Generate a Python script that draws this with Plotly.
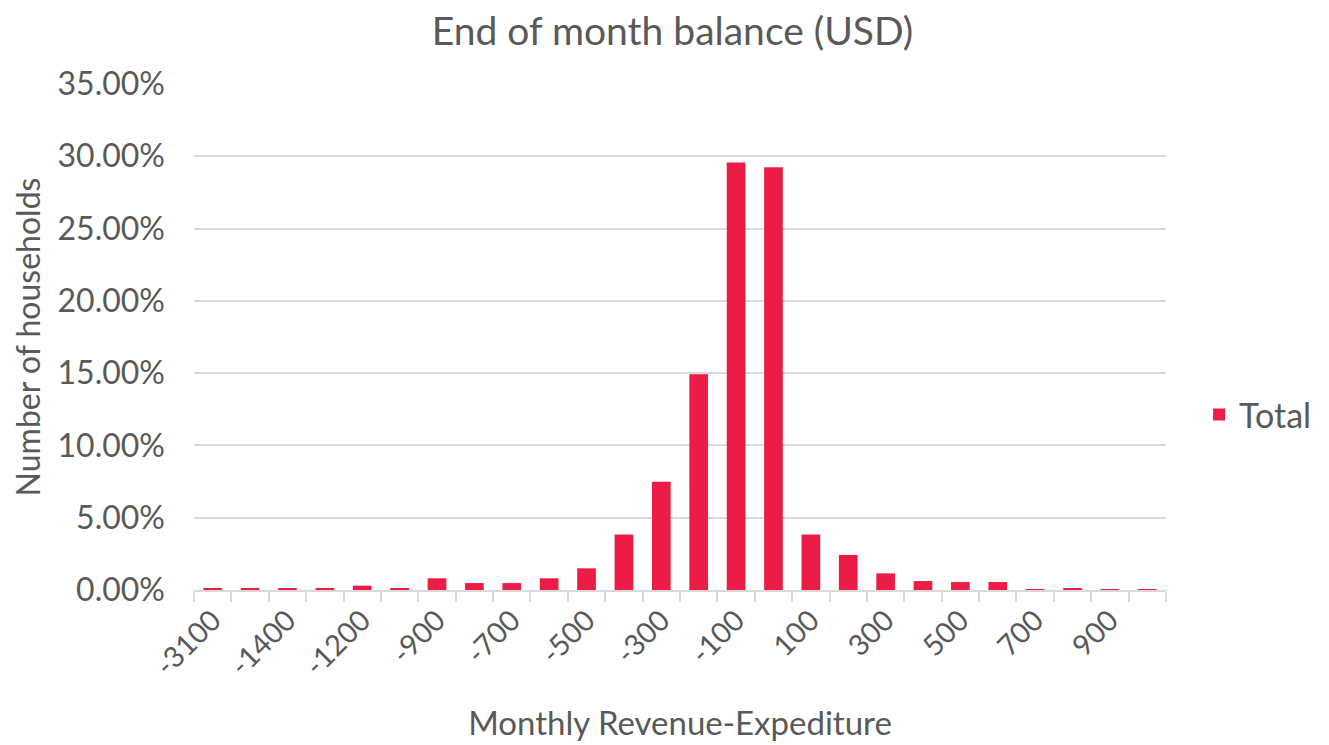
import plotly.graph_objects as go

categories = ["-3100", "-1500", "-1400", "-1300", "-1200", "-1000", "-900", "-800",
              "-700", "-600", "-500", "-400", "-300", "-200", "-100", "0",
              "100", "200", "300", "400", "500", "600", "700", "800", "900", "1000"]
share_pct = [0.07, 0.07, 0.07, 0.07, 0.30, 0.12, 0.81, 0.48,
             0.48, 0.81, 1.50, 3.84, 7.48, 14.92, 29.57, 29.25,
             3.84, 2.42, 1.15, 0.62, 0.55, 0.55, 0.06, 0.14, 0.06, 0.06]
values = [v / 100 for v in share_pct]
tick_text = [c if i % 2 == 0 else "" for i, c in enumerate(categories)]

FONT = "Lato"
GREY = "#595959"
GRID = "#d9d9d9"

fig = go.Figure()
fig.add_trace(go.Bar(
    x=categories, y=values, name="Total",
    marker=dict(color="#ED1C47", line=dict(width=0)),
    width=0.5,
))

fig.update_layout(
    width=1329, height=745,
    paper_bgcolor="white", plot_bgcolor="white",
    margin=dict(l=186, r=171, t=76, b=163, autoexpand=False),
    font=dict(family=FONT, color=GREY, size=32),
    title=dict(text="End of month balance (USD)", x=0.5, xanchor="center",
               y=0.969, yanchor="middle",
               font=dict(size=39, color=GREY, family=FONT)),
    showlegend=True,
    legend=dict(x=1.034, y=0.346, xanchor="left", yanchor="middle",
                font=dict(size=34, color=GREY, family=FONT), bgcolor="rgba(0,0,0,0)"),
    bargap=0.5,
)

fig.update_xaxes(
    type="category", categoryorder="array", categoryarray=categories,
    tickmode="array", tickvals=categories, ticktext=tick_text,
    tickson="boundaries", ticks="outside", ticklen=10, tickwidth=1.5, tickcolor=GRID,
    tickangle=-45, tickfont=dict(size=29, color=GREY, family=FONT),
    showline=True, linecolor=GRID, linewidth=1.5,
    showgrid=False, zeroline=False,
    title=dict(text="Monthly Revenue-Expediture", standoff=31,
               font=dict(size=33, color=GREY, family=FONT)),
    range=[-0.5, len(categories) - 0.5],
)

fig.update_yaxes(
    range=[0, 0.35], dtick=0.05, tick0=0, tickformat=".2%",
    showgrid=True, gridcolor=GRID, gridwidth=1.5,
    zeroline=False, showline=False, ticks="",
    ticklabelstandoff=28,
    tickfont=dict(size=32, color=GREY, family=FONT),
    title=dict(text="Number of households", standoff=12,
               font=dict(size=32, color=GREY, family=FONT)),
)

fig.write_html("out.html")
